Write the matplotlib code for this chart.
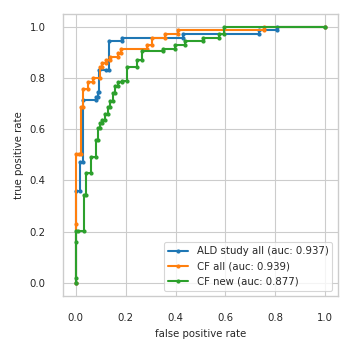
import matplotlib
matplotlib.use("Agg")
import matplotlib.pyplot as plt
import seaborn as sns

sns.set_theme(style="whitegrid", context="paper")
plt.rcParams['font.family'] = ['DejaVu Sans']

ald_fpr = [0, 0, 0.016, 0.016, 0.029, 0.029, 0.08, 0.08, 0.087, 0.087, 0.094, 0.094, 0.123, 0.134,
           0.134, 0.187, 0.187, 0.431, 0.431, 0.736, 0.736, 0.806, 0.806, 1.0]
ald_tpr = [0, 0.357, 0.357, 0.474, 0.474, 0.715, 0.715, 0.728, 0.728, 0.747, 0.747, 0.832, 0.832, 0.832,
           0.945, 0.945, 0.958, 0.958, 0.973, 0.973, 0.988, 0.988, 1.0, 1.0]

cfall_fpr = [0, 0, 0, 0.011, 0.02, 0.02, 0.029, 0.029, 0.048, 0.048, 0.068, 0.068, 0.096, 0.096,
             0.106, 0.106, 0.123, 0.123, 0.137, 0.137, 0.17, 0.17, 0.183, 0.183, 0.284, 0.284,
             0.304, 0.304, 0.357, 0.357, 0.41, 0.41, 0.756, 0.756, 1.0]
cfall_tpr = [0, 0.229, 0.504, 0.504, 0.504, 0.686, 0.686, 0.756, 0.756, 0.786, 0.786, 0.8, 0.8, 0.842,
             0.842, 0.858, 0.858, 0.871, 0.871, 0.884, 0.884, 0.897, 0.897, 0.913, 0.913, 0.93,
             0.93, 0.958, 0.958, 0.973, 0.973, 0.988, 0.988, 1.0, 1.0]

cfnew_fpr = [0, 0, 0, 0, 0.009, 0.032, 0.032, 0.04, 0.04, 0.06, 0.06, 0.079, 0.079, 0.09, 0.09,
             0.096, 0.096, 0.104, 0.104, 0.116, 0.116, 0.13, 0.13, 0.139, 0.139, 0.15, 0.15,
             0.157, 0.157, 0.17, 0.17, 0.187, 0.187, 0.206, 0.206, 0.246, 0.246, 0.264, 0.264,
             0.35, 0.35, 0.397, 0.397, 0.437, 0.437, 0.511, 0.511, 0.575, 0.575, 0.594, 0.594, 1.0]
cfnew_tpr = [0, 0.018, 0.159, 0.203, 0.203, 0.203, 0.344, 0.344, 0.428, 0.428, 0.491, 0.491, 0.559,
             0.559, 0.604, 0.604, 0.626, 0.626, 0.637, 0.637, 0.66, 0.66, 0.686, 0.686, 0.712,
             0.712, 0.741, 0.741, 0.77, 0.77, 0.786, 0.786, 0.79, 0.79, 0.842, 0.842, 0.871,
             0.871, 0.904, 0.904, 0.913, 0.913, 0.93, 0.93, 0.945, 0.945, 0.958, 0.958, 0.973,
             0.973, 1.0, 1.0]

labels = ["ALD study all (auc: 0.937)", "CF all (auc: 0.939)", "CF new (auc: 0.877)"]
colors = ["#1f77b4", "#ff7f0e", "#2ca02c"]

fig = plt.figure(figsize=(3.52, 3.52), dpi=100)
ax = fig.add_axes([0.18, 0.16, 0.779, 0.80])
for fpr, tpr, lab, c in zip([ald_fpr, cfall_fpr, cfnew_fpr], [ald_tpr, cfall_tpr, cfnew_tpr], labels, colors):
    ax.plot(fpr, tpr, marker='.', markersize=4, linewidth=1.5, color=c, label=lab)

ax.set_xlim(-0.05, 1.05)
ax.set_ylim(-0.05, 1.05)
ax.set_xticks([0, 0.2, 0.4, 0.6, 0.8, 1.0])
ax.set_yticks([0, 0.2, 0.4, 0.6, 0.8, 1.0])
ax.tick_params(labelsize=7.3, pad=8)
ax.set_xlabel("false positive rate", fontsize=7.3)
ax.set_ylabel("true positive rate", fontsize=7.3)
ax.legend(loc="lower right", fontsize=7.3)
fig.savefig("out.png", dpi=100)
